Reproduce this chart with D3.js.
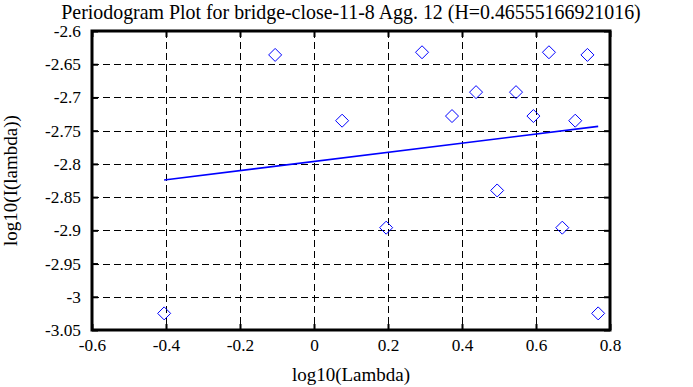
<!DOCTYPE html>
<html>
<head>
<meta charset="utf-8">
<script src="https://cdn.jsdelivr.net/npm/d3@7"></script>
<style>
  body { margin: 0; background: #fff; }
</style>
</head>
<body>
<div id="chart"></div>
<script>
// periodogram points (log10 lambda, log10 I(lambda))
var logLambda = [-0.405, -0.105, 0.076, 0.195, 0.292, 0.373, 0.438, 0.495,
                 0.546, 0.593, 0.635, 0.671, 0.706, 0.739, 0.768];
var logI = [-3.025, -2.636, -2.735, -2.896, -2.632, -2.728, -2.692, -2.840,
            -2.692, -2.728, -2.632, -2.896, -2.735, -2.636, -3.025];

// fitted line end points
var fitX = [-0.405, 0.768];
var fitY = [-2.8243, -2.7435];

var xTicks = [-0.6, -0.4, -0.2, 0, 0.2, 0.4, 0.6, 0.8];
var yTicks = [-2.6, -2.65, -2.7, -2.75, -2.8, -2.85, -2.9, -2.95, -3, -3.05];

var title = "Periodogram Plot for bridge-close-11-8 Agg. 12 (H=0.46555166921016)";

var FONT = "'Liberation Serif', 'Times New Roman', Times, serif";
var width = 693, height = 387;
var m = {left: 92, right: 83, top: 31, bottom: 57};

var svg = d3.select("#chart").append("svg")
    .attr("width", width)
    .attr("height", height)
    .style("font-family", FONT);

var x = d3.scaleLinear().domain([-0.6, 0.8]).range([m.left, width - m.right]);
var y = d3.scaleLinear().domain([-3.05, -2.6]).range([height - m.bottom, m.top]);

// grid lines
var grid = svg.append("g").attr("stroke", "#000").attr("stroke-width", 1)
    .attr("stroke-dasharray", "7,4");
grid.selectAll(".gx").data(xTicks.slice(1, -1)).enter().append("line")
    .attr("x1", d => Math.round(x(d)) + 0.5).attr("x2", d => Math.round(x(d)) + 0.5)
    .attr("y1", y(-2.6)).attr("y2", y(-3.05));
grid.selectAll(".gy").data(yTicks.slice(1, -1)).enter().append("line")
    .attr("y1", d => Math.round(y(d)) + 0.5).attr("y2", d => Math.round(y(d)) + 0.5)
    .attr("x1", x(-0.6)).attr("x2", x(0.8));

// axes with inward ticks
var fmt = d => String(d);
var xAxisB = d3.axisBottom(x).tickValues(xTicks).tickSize(-6).tickPadding(9).tickFormat(fmt);
var xAxisT = d3.axisTop(x).tickValues(xTicks).tickSize(-6).tickFormat("");
var yAxisL = d3.axisLeft(y).tickValues(yTicks).tickSize(-6).tickPadding(11).tickFormat(fmt);
var yAxisR = d3.axisRight(y).tickValues(yTicks).tickSize(-6).tickFormat("");

// shrink/grow a text so it spans about the same width as in the picture
function fitText(sel, base, target, maxFs) {
    sel.style("font-size", base + "px");
    var w = sel.node().getComputedTextLength();
    var fs = Math.min(base * target / w, maxFs);
    sel.style("font-size", fs.toFixed(1) + "px");
    return fs;
}

function styleAxis(g) {
    g.attr("font-family", null).attr("font-size", null);
    g.selectAll(".domain").remove();
    g.selectAll(".tick line").attr("stroke", "#000").attr("stroke-width", 2);
    g.selectAll("text").attr("fill", "#000")
        .style("font-family", FONT).style("font-size", tickFs + "px");
}

// size tick labels from the "-2.65" label width (~36px in the picture)
var probe = svg.append("text").text("-2.65");
var tickFs = fitText(probe, 18, 36, 20);
probe.remove();

svg.append("g").attr("transform", "translate(0," + y(-3.05) + ")").call(xAxisB).call(styleAxis);
svg.append("g").attr("transform", "translate(0," + y(-2.6) + ")").call(xAxisT).call(styleAxis);
svg.append("g").attr("transform", "translate(" + x(-0.6) + ",0)").call(yAxisL).call(styleAxis);
svg.append("g").attr("transform", "translate(" + x(0.8) + ",0)").call(yAxisR).call(styleAxis);

// frame
svg.append("rect")
    .attr("x", x(-0.6)).attr("y", y(-2.6))
    .attr("width", x(0.8) - x(-0.6)).attr("height", y(-3.05) - y(-2.6))
    .attr("fill", "none").attr("stroke", "#000").attr("stroke-width", 3);

// fitted line
svg.append("line")
    .attr("x1", x(fitX[0])).attr("y1", y(fitY[0]))
    .attr("x2", x(fitX[1])).attr("y2", y(fitY[1]))
    .attr("stroke", "#0000ff").attr("stroke-width", 1.6);

// diamonds
var r = 6.5;
svg.selectAll(".pt").data(logLambda).enter().append("path")
    .attr("d", (d, i) => {
        var cx = x(d), cy = y(logI[i]);
        return "M" + cx + "," + (cy - r) + "L" + (cx + r) + "," + cy +
               "L" + cx + "," + (cy + r) + "L" + (cx - r) + "," + cy + "Z";
    })
    .attr("fill", "none").attr("stroke", "#0000ff").attr("stroke-width", 1);

// labels
var t = svg.append("text").attr("x", (x(-0.6) + x(0.8)) / 2).attr("y", 19)
    .attr("text-anchor", "middle").text(title);
fitText(t, 19, 580, 21);

var xl = svg.append("text").attr("x", (x(-0.6) + x(0.8)) / 2).attr("y", 381)
    .attr("text-anchor", "middle").text("log10(Lambda)");
fitText(xl, 18, 118, 19);

var yl = svg.append("text")
    .attr("transform", "translate(17," + ((y(-2.6) + y(-3.05)) / 2) + ") rotate(-90)")
    .attr("text-anchor", "middle").text("log10(I(lambda))");
fitText(yl, 18, 168, 19);
</script>
</body>
</html>
